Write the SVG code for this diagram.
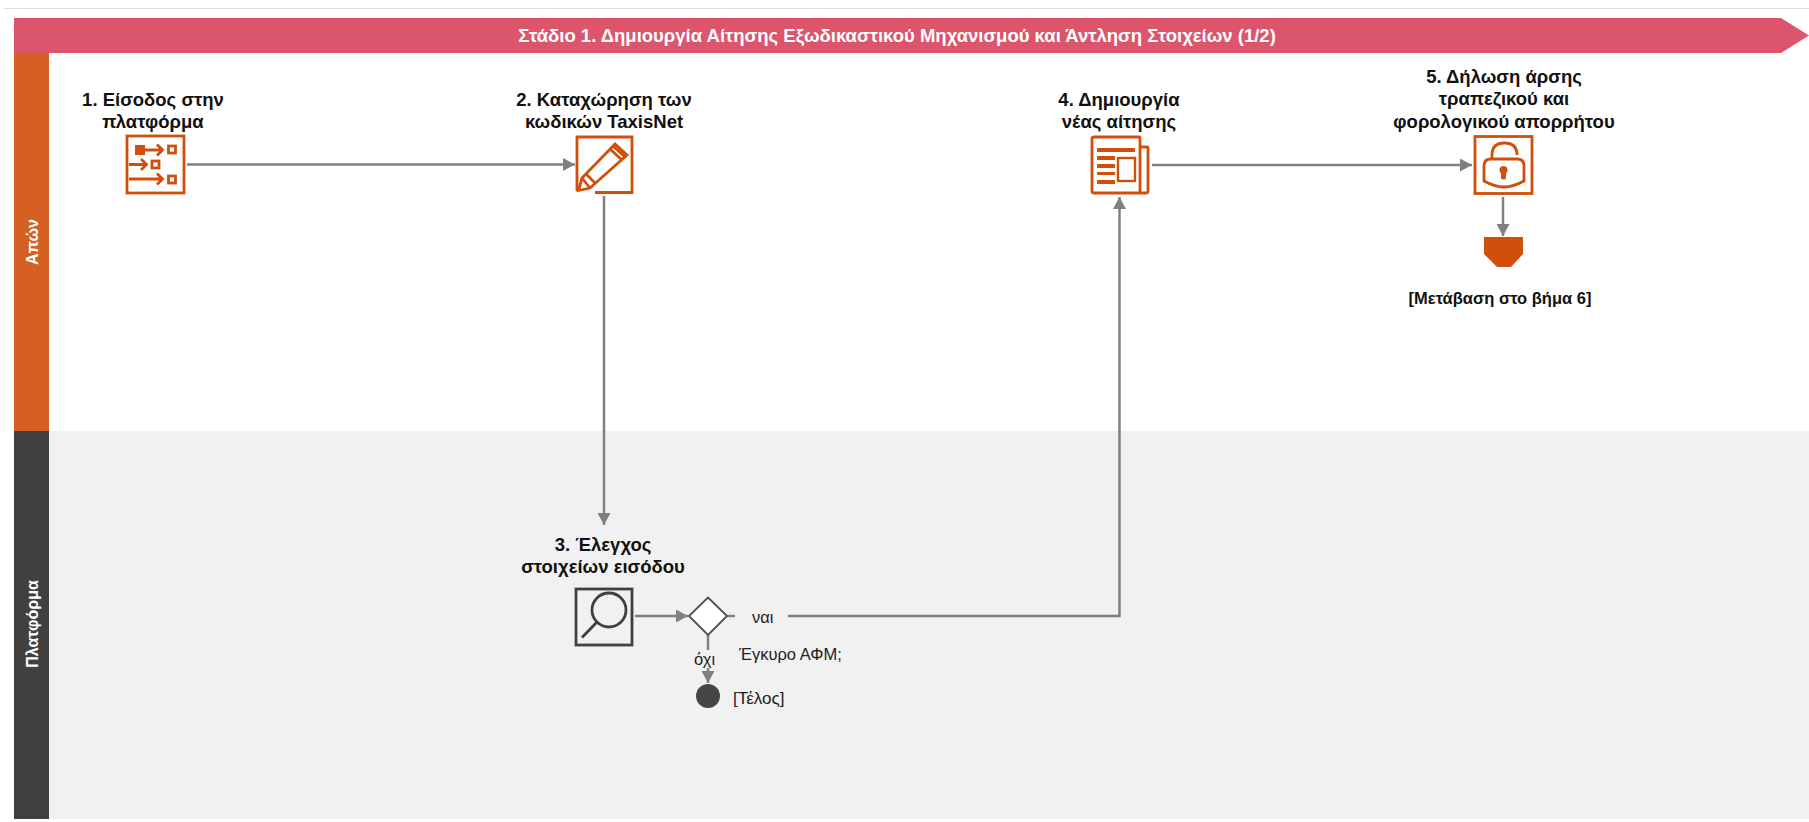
<svg xmlns="http://www.w3.org/2000/svg" width="1809" height="822" viewBox="0 0 1809 822">
<style>
text{font-family:"Liberation Sans",Arial,sans-serif;fill:#111}
.t{font-size:18.500px;font-weight:700;text-anchor:middle;fill:#111}
.l{font-size:16.500px;fill:#222}
.w{font-size:18.500px;font-weight:700;fill:#fff;text-anchor:middle}
.v{font-size:16px;font-weight:700;fill:#fff;text-anchor:middle}
.c{fill:none;stroke:#808080;stroke-width:2.500}
.o{fill:none;stroke:#D14F0A;stroke-width:2.800}
.of{fill:#D14F0A;stroke:none}
.g{fill:none;stroke:#404040;stroke-width:2.800}
</style>
<defs>
<marker id="a" markerUnits="userSpaceOnUse" markerWidth="13" markerHeight="13" refX="12" refY="6.5" orient="auto"><path d="M0 0L12 6.5L0 13Z" fill="#808080"/></marker>
</defs>
<rect width="1809" height="822" fill="#fff"/>
<rect x="4" y="8" width="1805" height="1" fill="#ddd"/>
<rect x="49" y="431" width="1760" height="388" fill="#f1f1f1"/>
<g id="banner"><path d="M14 18H1781L1809 35.500L1781 53H14Z" fill="#DC556D"/><text class="w" x="897" y="41.500">Στάδιο 1. Δημιουργία Αίτησης Εξωδικαστικού Μηχανισμού και Άντληση Στοιχείων (1/2)</text></g>
<g id="lane-apton"><rect x="14" y="53" width="35" height="378" fill="#D65F22"/><text class="v" transform="translate(38 242) rotate(-90)">Απών</text></g>
<g id="lane-platforma"><rect x="14" y="431" width="35" height="388" fill="#404040"/><text class="v" transform="translate(38 624) rotate(-90)">Πλατφόρμα</text></g>
<g id="connectors">
<path class="c" d="M187 164.500H575" marker-end="url(#a)"/>
<path class="c" d="M604 196V525" marker-end="url(#a)"/>
<path class="c" d="M635 616H688" marker-end="url(#a)"/>
<path class="c" d="M727 616H735"/>
<path class="c" d="M788 616H1119.500V197" marker-end="url(#a)"/>
<path class="c" d="M708 635V650"/>
<path class="c" d="M708 668V683" marker-end="url(#a)"/>
<path class="c" d="M1152 165H1472" marker-end="url(#a)"/>
<path class="c" d="M1503 197V236" marker-end="url(#a)"/>
</g>
<g id="node-1">
<text class="t"><tspan x="153" y="106">1. Είσοδος στην</tspan><tspan x="153" y="128">πλατφόρμα</tspan></text>
<rect class="o" x="127" y="136" width="57" height="57"/>
<rect class="of" x="135" y="145" width="10" height="10"/>
<path class="o" d="M145 150H162M157 144.500L162.500 150L157 155.500M129 164.500H146M141 159L146.500 164.500L141 170M129 179H162M157 173.500L162.500 179L157 184.500"/>
<rect class="o" x="168.500" y="146" width="7" height="7"/><rect class="o" x="152" y="161" width="7" height="7"/><rect class="o" x="168.500" y="176" width="7" height="7"/>
</g>
<g id="node-2">
<text class="t"><tspan x="604" y="106">2. Καταχώρηση των</tspan><tspan x="604" y="128">κωδικών TaxisNet</tspan></text>
<path class="o" d="M577 191V137H632V192.500H595"/>
<path class="o" d="M578.500 190.500L582 178L615 144L627 155L590 188ZM582 178L590 188M586 174L596 184M610 149L622 160M613 146L625 157"/>
</g>
<g id="node-3">
<text class="t"><tspan x="603" y="550.500">3. Έλεγχος</tspan><tspan x="603" y="572.500">στοιχείων εισόδου</tspan></text>
<rect class="g" x="576" y="589" width="56" height="56"/>
<circle class="g" cx="609" cy="610" r="17"/>
<path class="g" d="M597 622L582 637.500"/>
</g>
<g id="decision">
<path d="M708 597.500L727 616L708 635L689 616Z" fill="#fff" stroke="#505050" stroke-width="1.800"/>
<text class="l" x="752" y="623">ναι</text>
<text class="l" x="739" y="660">Έγκυρο ΑΦΜ;</text>
<text class="l" x="694" y="665">όχι</text>
</g>
<g id="end">
<circle cx="708" cy="696" r="12" fill="#454545"/>
<text class="l" x="733" y="704" style="font-size:17px">[Τέλος]</text>
</g>
<g id="node-4">
<text class="t"><tspan x="1119" y="106">4. Δημιουργία</tspan><tspan x="1119" y="128">νέας αίτησης</tspan></text>
<path class="o" d="M1140 147V138Q1140 137 1139 137H1094Q1092 137 1092 139V191Q1092 193 1094 193H1146Q1148 193 1148 191V148Q1148 147 1147 147H1140V193"/>
<path class="of" d="M1097 148H1135V152H1097ZM1097 156H1115V160H1097ZM1097 164H1115V168H1097ZM1097 172H1115V175H1097ZM1097 180H1115V184H1097Z"/>
<rect x="1118" y="158" width="17" height="23" fill="none" stroke="#D14F0A" stroke-width="2.400"/>
</g>
<g id="node-5">
<text class="t"><tspan x="1504" y="83">5. Δήλωση άρσης</tspan><tspan x="1504" y="105">τραπεζικού και</tspan><tspan x="1504" y="127.500">φορολογικού απορρήτου</tspan></text>
<rect class="o" x="1475" y="136.500" width="57" height="57"/>
<path class="o" d="M1492 159V155Q1492 143 1504.500 143Q1517 143 1517 155"/>
<path d="M1484 166Q1484 159 1491 159H1517Q1524 159 1524 166V181Q1513 187 1504 187Q1495 187 1484 181Z" fill="none" stroke="#D14F0A" stroke-width="2.800"/>
<circle class="of" cx="1503.500" cy="170" r="4"/><rect class="of" x="1501" y="170" width="5" height="9.500" rx="2"/>
</g>
<g id="off-page">
<path class="of" d="M1484 237H1523V254L1511 267H1497L1484 254Z"/>
<text class="t" x="1500" y="304" style="font-size:16.500px">[Μετάβαση στο βήμα 6]</text>
</g>
</svg>
